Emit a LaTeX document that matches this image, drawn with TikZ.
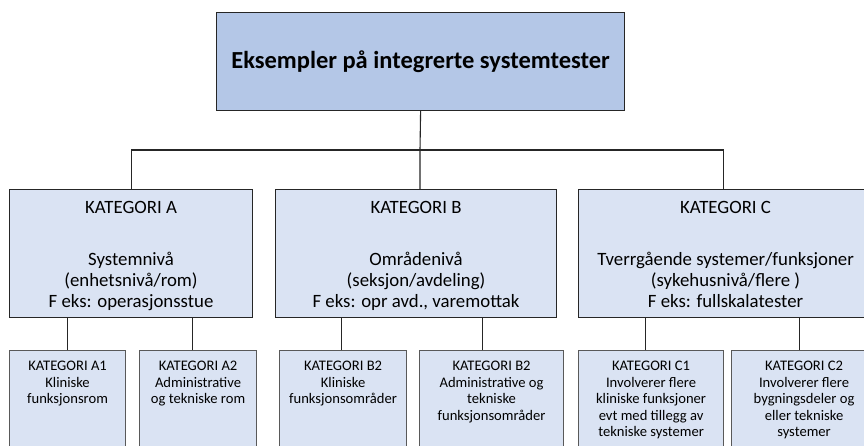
\documentclass[tikz,border=0pt]{standalone}
\usepackage{fontspec}
\setmainfont{Carlito}
\definecolor{topfill}{HTML}{B4C7E7}
\definecolor{boxfill}{HTML}{DAE3F3}
\definecolor{edge}{HTML}{262626}
\definecolor{subedge}{HTML}{595959}
\tikzset{
  titlebox/.style={draw=edge, fill=topfill, line width=1.2pt, inner sep=0pt,
    minimum width=408pt, minimum height=98pt, anchor=north west,
    font=\fontsize{24.5}{28}\selectfont\bfseries},
  catbox/.style={draw=edge, fill=boxfill, line width=1.1pt, inner sep=0pt,
    anchor=north west, font=\fontsize{18.8}{20.7}\selectfont},
  subbox/.style={draw=subedge, fill=boxfill, line width=1.1pt, inner sep=0pt,
    anchor=north west, font=\fontsize{14.6}{16.6}\selectfont},
  conn/.style={draw=edge, line width=1.1pt},
}
\newcommand{\catbody}[2]{\parbox[t][128pt][t]{#1pt}{\centering\rule{0pt}{24.3pt}#2}}
\newcommand{\subbody}[2]{\parbox[t][110pt][t]{#1pt}{\centering\rule{0pt}{20pt}#2}}
\begin{document}
\begin{tikzpicture}[x=1pt,y=-1pt]
\useasboundingbox (0,0) rectangle (864,446);
\clip (0,0) rectangle (864,446);
\fill[white] (0,0) rectangle (864,446);

\node[titlebox] (title) at (216,12) {Eksempler på integrerte systemtester};

\node[catbox] (A) at (9,189) {\catbody{243}{KATEGORI A\\[31.3pt]Systemnivå\\(enhetsnivå/rom)\\F eks: operasjonsstue}};
\node[catbox] (B) at (275,189) {\catbody{281}{KATEGORI B\\[31.3pt]Områdenivå\\(seksjon/avdeling)\\F eks: opr avd., varemottak}};
\node[catbox] (C) at (578,189) {\catbody{294}{KATEGORI C\\[31.3pt]Tverrgående systemer/funksjoner\\(sykehusnivå/flere )\\F eks: fullskalatester}};

\node[subbox] (A1) at (9,350) {\subbody{116}{KATEGORI A1\\Kliniske\\funksjonsrom}};
\node[subbox] (A2) at (139,350) {\subbody{117}{KATEGORI A2\\Administrative\\og tekniske rom}};
\node[subbox] (B1) at (279,350) {\subbody{127}{KATEGORI B2\\Kliniske\\funksjonsområder}};
\node[subbox] (B2) at (419,350) {\subbody{144}{KATEGORI B2\\Administrative og\\tekniske\\funksjonsområder}};
\node[subbox] (C1) at (578,350) {\subbody{145}{KATEGORI C1\\Involverer flere\\kliniske funksjoner\\evt med tillegg av\\tekniske systemer}};
\node[subbox] (C2) at (731,350) {\subbody{145}{KATEGORI C2\\Involverer flere\\bygningsdeler og\\eller tekniske\\systemer}};

\coordinate (j) at (420,150);
\draw[conn] (title.south) -- (j) -- (j |- B.north);
\draw[conn] (A.north) |- (j) -| ([xshift=-2pt]C.north);
\draw[conn] (A1.north) -- (A1.north |- A.south);
\draw[conn] ([xshift=-5.5pt]A2.north) -- ([xshift=-5.5pt]A2.north |- A.south);
\draw[conn] ([xshift=-1.5pt]B1.north) -- ([xshift=-1.5pt]B1.north |- B.south);
\draw[conn] ([xshift=-9pt]B2.north) -- ([xshift=-9pt]B2.north |- B.south);
\draw[conn] ([xshift=-5.5pt]C1.north) -- ([xshift=-5.5pt]C1.north |- C.south);
\draw[conn] ([xshift=-4.5pt]C2.north) -- ([xshift=-4.5pt]C2.north |- C.south);
\end{tikzpicture}
\end{document}
